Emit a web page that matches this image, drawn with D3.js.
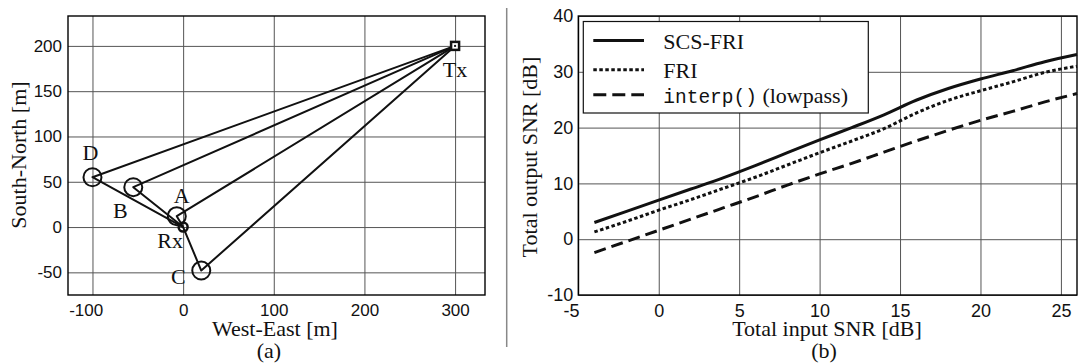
<!DOCTYPE html>
<html>
<head>
<meta charset="utf-8">
<script src="https://cdn.jsdelivr.net/npm/d3@7"></script>
<style>
  body { margin: 0; background: #fff; }
  svg { display: block; }
  .serif { font-family: "Liberation Serif", "Times New Roman", serif; font-size: 22px; fill: #111; }
</style>
</head>
<body>
<svg id="chart" width="1081" height="364"></svg>
<script>
// ---- panel (a): geometry of the scene, metres
var txPos = [300, 200];
var rxPos = [0, 0];
var scatterNames = ["A", "B", "C", "D"];
var scatterX = [-7, -55, 20, -100];
var scatterY = [12, 44, -48, 55];
var mapXTicks = [-100, 0, 100, 200, 300];
var mapYTicks = [-50, 0, 50, 100, 150, 200];

// ---- panel (b): output SNR vs input SNR, dB
var snrIn   = [-4, -2, 0, 2, 4, 6, 8, 10, 12, 14, 16, 18, 20, 22, 24, 26];
var scsFri  = [3.0, 5.0, 7.0, 9.0, 11.0, 13.2, 15.5, 17.8, 20.0, 22.3, 24.9, 27.0, 28.7, 30.2, 31.8, 33.1];
var fri     = [1.3, 3.2, 5.2, 7.1, 9.1, 11.1, 13.3, 15.5, 17.6, 19.8, 22.6, 24.9, 26.6, 28.2, 29.9, 31.0];
var lowpass = [-2.4, -0.4, 1.6, 3.6, 5.6, 7.6, 9.7, 11.7, 13.6, 15.6, 17.6, 19.5, 21.3, 22.9, 24.6, 26.1];
var snrXTicks = [-5, 0, 5, 10, 15, 20, 25];
var snrYTicks = [-10, 0, 10, 20, 30, 40];

var svg = d3.select("#chart");
svg.append("rect").attr("width", 1081).attr("height", 364).attr("fill", "#fff");

// plain hyphen minus like the original (d3.format would give U+2212)
var fmt = function(d) { return String(d); };

// draws grid + tick labels + box for one panel
function drawFrame(x, y, box, xt, yt, fs, xpad, ypad) {
  var w = box.right - box.left, h = box.bottom - box.top;
  var g = svg.append("g");
  var gx = g.append("g")
    .attr("transform", "translate(0," + box.bottom + ")")
    .call(d3.axisBottom(x).tickValues(xt).tickSize(-h).tickPadding(xpad).tickFormat(fmt));
  var gy = g.append("g")
    .attr("transform", "translate(" + box.left + ",0)")
    .call(d3.axisLeft(y).tickValues(yt).tickSize(-w).tickPadding(ypad).tickFormat(fmt));
  [gx, gy].forEach(function(a) {
    a.select(".domain").remove();
    a.attr("font-family", "'Liberation Sans', Arial, sans-serif").attr("font-size", fs);
    a.selectAll(".tick line").attr("stroke", "#555").attr("stroke-width", 1);
    a.selectAll(".tick text").attr("fill", "#111");
  });
  // negative labels sit a bit left in the original
  gx.selectAll(".tick text").filter(function(d) { return d < 0; }).attr("dx", "-0.4em");
  g.append("rect")
    .attr("x", box.left).attr("y", box.top).attr("width", w).attr("height", h)
    .attr("fill", "none").attr("stroke", "#000").attr("stroke-width", 1.4);
  return g;
}

// ================= panel (a) =================
var boxA = {left: 68, right: 485, top: 16, bottom: 295};
var xA = d3.scaleLinear().domain([-127, 333]).range([boxA.left, boxA.right]);
var yA = d3.scaleLinear().domain([-75, 233]).range([boxA.bottom, boxA.top]);
drawFrame(xA, yA, boxA, mapXTicks, mapYTicks, 17, 9, 6);

var scat = scatterNames.map(function(n, i) { return {name: n, x: scatterX[i], y: scatterY[i]}; });
var path = d3.line().x(function(d) { return xA(d[0]); }).y(function(d) { return yA(d[1]); });

var gA = svg.append("g");
gA.selectAll("path.ray")
  .data(scat).join("path")
  .attr("class", "ray")
  .attr("d", function(d) { return path([txPos, [d.x, d.y], rxPos]); })
  .attr("fill", "none").attr("stroke", "#111").attr("stroke-width", 2)
  .attr("stroke-linejoin", "round");

gA.selectAll("circle.sc")
  .data(scat).join("circle")
  .attr("class", "sc")
  .attr("cx", function(d) { return xA(d.x); })
  .attr("cy", function(d) { return yA(d.y); })
  .attr("r", 9)
  .attr("fill", "none").attr("stroke", "#111").attr("stroke-width", 2);

gA.append("circle")
  .attr("cx", xA(rxPos[0])).attr("cy", yA(rxPos[1])).attr("r", 4.5)
  .attr("fill", "none").attr("stroke", "#111").attr("stroke-width", 2.5);

gA.append("rect")
  .attr("x", xA(txPos[0]) - 4).attr("y", yA(txPos[1]) - 4)
  .attr("width", 8).attr("height", 8)
  .attr("fill", "#fff").attr("stroke", "#111").attr("stroke-width", 2.5);
gA.append("rect")
  .attr("x", xA(txPos[0]) - 1).attr("y", yA(txPos[1]) - 1)
  .attr("width", 2).attr("height", 2).attr("fill", "#111");

// label offsets in px from the marker
var labelOff = {A: [5, -13], B: [-13, 31], C: [-23, 13.5], D: [-2, -17], Rx: [-13, 21], Tx: [0, 31]};
var labels = scat.map(function(d) { return {name: d.name, x: d.x, y: d.y}; })
  .concat([{name: "Rx", x: rxPos[0], y: rxPos[1]}, {name: "Tx", x: txPos[0], y: txPos[1]}]);
gA.selectAll("text.lab")
  .data(labels).join("text")
  .attr("class", "lab serif")
  .attr("text-anchor", "middle")
  .attr("x", function(d) { return xA(d.x) + labelOff[d.name][0]; })
  .attr("y", function(d) { return yA(d.y) + labelOff[d.name][1]; })
  .text(function(d) { return d.name; });

svg.append("text").attr("class", "serif").attr("text-anchor", "middle")
  .attr("x", 275).attr("y", 336).text("West-East [m]");
svg.append("text").attr("class", "serif").attr("text-anchor", "middle")
  .attr("x", 269).attr("y", 358).text("(a)");
svg.append("text").attr("class", "serif").attr("text-anchor", "middle")
  .attr("transform", "translate(25.5,155) rotate(-90)").text("South-North [m]");

// divider between the two panels
svg.append("line").attr("x1", 506.7).attr("x2", 506.7).attr("y1", 8).attr("y2", 347)
  .attr("stroke", "#888").attr("stroke-width", 1.5);

// ================= panel (b) =================
var boxB = {left: 578.3, right: 1077, top: 16, bottom: 295};
var xB = d3.scaleLinear().domain([-5, 26]).range([boxB.left, boxB.right]);
var yB = d3.scaleLinear().domain([-10, 40]).range([boxB.bottom, boxB.top]);
drawFrame(xB, yB, boxB, snrXTicks, snrYTicks, 18, 9.5, 5);

var series = [
  {name: "SCS-FRI", values: scsFri, dash: null},
  {name: "FRI", values: fri, dash: "3.5,2.5"},
  {name: "interp()", values: lowpass, dash: "12,6"}
];
var line = d3.line()
  .x(function(d, i) { return xB(snrIn[i]); })
  .y(function(d) { return yB(d); })
  .curve(d3.curveMonotoneX);

svg.append("g").selectAll("path")
  .data(series).join("path")
  .attr("d", function(d) { return line(d.values); })
  .attr("fill", "none").attr("stroke", "#111").attr("stroke-width", 3)
  .attr("stroke-dasharray", function(d) { return d.dash; });

// legend
var leg = svg.append("g");
leg.append("rect").attr("x", 583.3).attr("y", 21.5).attr("width", 285).attr("height", 91.5)
  .attr("fill", "#fff").attr("stroke", "#111").attr("stroke-width", 1.2);
var legY = [40.5, 69.7, 94.7];
series.forEach(function(s, i) {
  leg.append("line").attr("x1", 593.3).attr("x2", 644).attr("y1", legY[i]).attr("y2", legY[i])
    .attr("stroke", "#111").attr("stroke-width", 3)
    .attr("stroke-dasharray", s.dash === "12,6" ? "13,6" : s.dash);
  var t = leg.append("text").attr("class", "serif").attr("x", 663.3).attr("y", legY[i] + 8.5);
  if (s.name === "interp()") {
    t.append("tspan").attr("font-family", "'Liberation Mono', 'DejaVu Sans Mono', monospace")
      .attr("font-size", 19.5).text("interp()");
    t.append("tspan").text(" (lowpass)");
  } else {
    t.text(s.name);
  }
});

svg.append("text").attr("class", "serif").attr("text-anchor", "middle")
  .attr("x", 827).attr("y", 336).text("Total input SNR [dB]");
svg.append("text").attr("class", "serif").attr("text-anchor", "middle")
  .attr("x", 824).attr("y", 358).text("(b)");
svg.append("text").attr("class", "serif").attr("text-anchor", "middle")
  .attr("transform", "translate(537,157) rotate(-90)").text("Total output SNR [dB]");
</script>
</body>
</html>
